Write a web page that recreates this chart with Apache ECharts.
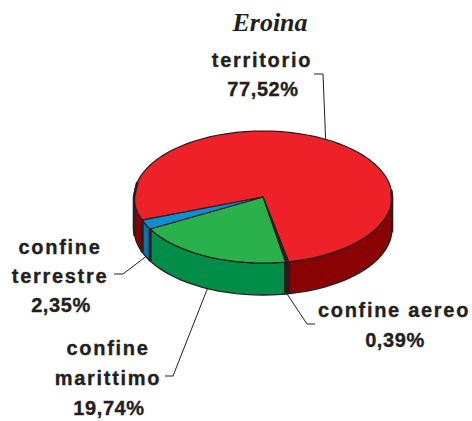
<!DOCTYPE html>
<html><head><meta charset="utf-8">
<style>
html,body{margin:0;padding:0;background:#fff}
#chart{width:472px;height:421px}
#chart text[style*="Liberation Sans"]{letter-spacing:1.7px}
#chart text[style*="Arial"]{letter-spacing:.6px}
</style>
<script src="https://cdn.jsdelivr.net/npm/echarts@6/dist/echarts.min.js"></script>
</head><body><div id="chart"></div>
<script>
const titleText = 'Eroina';
const categories = ['territorio', 'confine aereo', 'confine marittimo', 'confine terrestre'];
const values = [77.52, 0.39, 19.74, 2.35];
const topColors = ['#EE2129', '#231F20', '#2BB14C', '#0E8FD3'];
const sideColors = ['#8A0304', '#231F20', '#008D48', '#0B6FB0'];

const labelLines = [['territorio'], ['confine aereo'], ['confine', 'marittimo'], ['confine', 'terrestre']];
const labelCenters = [[262, 60, 29], [394, 310, 30], [108, 348, 30], [60, 247, 29]];
const elbows = [[[314, 74], [323, 74]], [[315, 324], [307, 324]], [[165, 376], [173, 376]], [[114, 274], [123, 274]]];

const PIE = {cx: 263, cy: 197, rx: 129, ry: 66, depth: 32, start: 249.5};
const INK = '#231F20';
const total = values.reduce((a, b) => a + b, 0);
const rad = d => d * Math.PI / 180;
const pt = (deg, off) => [PIE.cx + PIE.rx * Math.sin(rad(deg)), PIE.cy - PIE.ry * Math.cos(rad(deg)) + (off || 0)];
function arcDegs(a, b) {
  const r = [a];
  for (let d = Math.ceil(a / 4) * 4; d < b; d += 4) if (d > a) r.push(d);
  r.push(b);
  return r;
}
// parts of [a,b] on the visible front half: 90..270 (mod 360)
function frontParts(a, b) {
  const parts = [];
  for (const k of [0, 360]) {
    const s = Math.max(a, 90 + k), e = Math.min(b, 270 + k);
    if (e > s) parts.push([s, e]);
  }
  return parts;
}
function fmt(v) { return v.toFixed(2).replace('.', ',') + '%'; }

function renderItem(params, api) {
  const i = params.dataIndex;
  const v = api.value(0);
  let before = 0;
  for (let k = 0; k < i; k++) before += values[k];
  const a = PIE.start + before / total * 360;
  const b = a + v / total * 360;
  const mid = (a + b) / 2;
  const children = [];
  const bar = points => children.push({type: 'polyline', shape: {points},
    style: {fill: 'none', stroke: INK, lineWidth: 2.6, lineJoin: 'round'}, z2: 2});
  // side walls
  frontParts(a, b).forEach(([s, e]) => {
    const arc = arcDegs(s, e);
    const points = arc.map(d => pt(d)).concat(arc.slice().reverse().map(d => pt(d, PIE.depth)));
    children.push({type: 'polygon', shape: {points},
      style: {fill: sideColors[i], stroke: INK, lineWidth: 1.3, lineJoin: 'round'}});
    [[s, 1], [e, -1]].forEach(([d, dir]) => {
      const n = ((d % 360) + 360) % 360;
      if (n === 90) bar([pt(d - 6), pt(d), pt(d, PIE.depth), pt(d + 3, PIE.depth)]);
      else if (n === 270) bar([pt(d + 13), pt(d), pt(d, PIE.depth), pt(d - 6, PIE.depth)]);
      else bar([pt(d), pt(d, PIE.depth)]);
    });
  });
  // top face
  const top = [[PIE.cx, PIE.cy]].concat(arcDegs(a, b).map(d => pt(d)));
  children.push({type: 'polygon', shape: {points: top},
    style: {fill: topColors[i], stroke: INK, lineWidth: 1.2, lineJoin: 'round'}});
  // leader line from slice middle to label
  const m = ((mid % 360) + 360) % 360;
  const onFront = m > 90 && m < 270;
  const anchor = pt(mid, onFront ? PIE.depth : 0);
  children.push({type: 'polyline', shape: {points: elbows[i].concat([anchor])},
    style: {fill: 'none', stroke: INK, lineWidth: 1}, z2: 5});
  // label text
  const [lx, ly, lh] = labelCenters[i];
  const ink = {fill: INK, stroke: INK, lineWidth: 0.35, align: 'center', verticalAlign: 'middle'};
  labelLines[i].forEach((line, n) => {
    children.push({type: 'text', style: Object.assign({text: line, x: lx, y: ly + n * lh,
      font: "bold 20px 'Liberation Sans'"}, ink), z2: 6});
  });
  children.push({type: 'text', style: Object.assign({text: fmt(v), x: lx + 1, y: ly + labelLines[i].length * lh,
    font: "bold 20px Arial, 'DejaVu Sans'"}, ink), z2: 6});
  return {type: 'group', children};
}

const chart = echarts.init(document.getElementById('chart'), null, {renderer: 'svg'});
chart.setOption({
  animation: false,
  backgroundColor: '#fff',
  title: {text: titleText, left: 265, top: 4, textAlign: 'center',
    textStyle: {fontFamily: 'Liberation Serif', fontStyle: 'italic', fontWeight: 'bold', fontSize: 26, color: INK}},
  series: [{
    type: 'custom',
    coordinateSystem: 'none',
    silent: true,
    data: categories.map((c, i) => ({name: c, value: [values[i]]})),
    renderItem
  }]
});
</script>
</body></html>
